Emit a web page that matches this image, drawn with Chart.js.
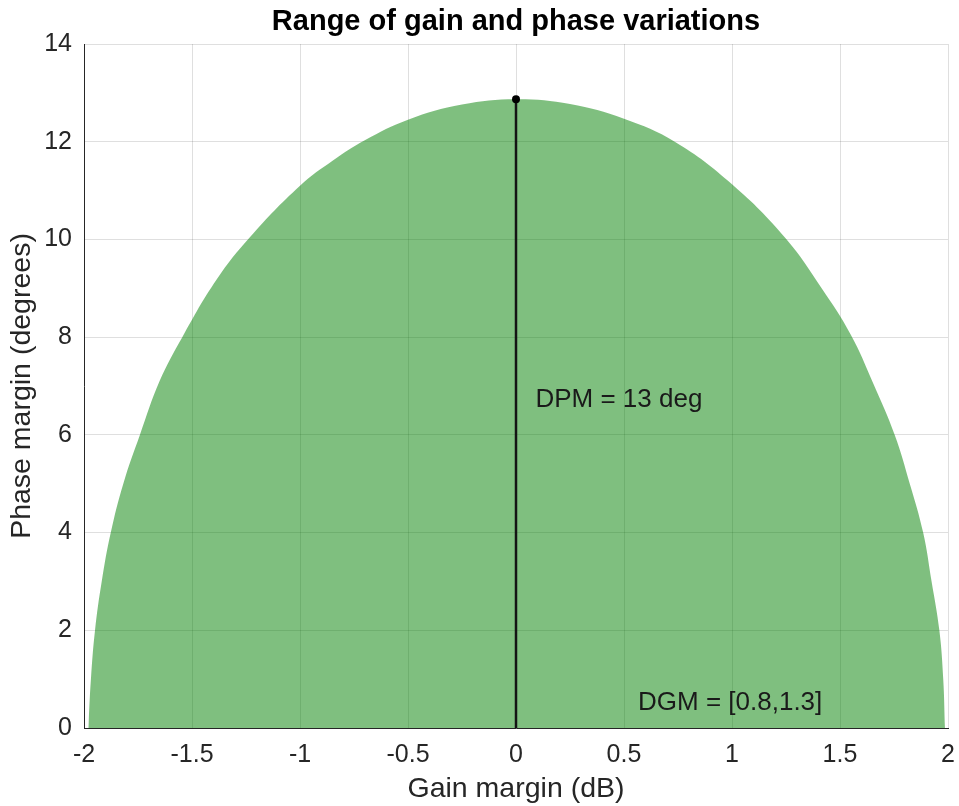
<!DOCTYPE html>
<html>
<head>
<meta charset="utf-8">
<script src="https://cdn.jsdelivr.net/npm/chart.js@4/dist/chart.umd.min.js"></script>
<style>
  html, body { margin: 0; padding: 0; background: #fff; }
</style>
</head>
<body>
<canvas id="chart" width="959" height="806"></canvas>
<script>
(function () {
  'use strict';

  // boundary of the gain/phase variation region
  var gainDb = [-1.980, -1.968, -1.949, -1.918, -1.876, -1.818, -1.741, -1.650, -1.545, -1.386,
    -1.231, -1.000, -0.846, -0.700, -0.500, -0.250, 0, 0.250, 0.500, 0.735,
    1.000, 1.249, 1.415, 1.550, 1.654, 1.753, 1.823, 1.885, 1.924, 1.960,
    1.978, 1.986];
  var phaseDeg = [0, 1, 2, 3, 4, 5, 6, 7.1, 8, 9.18,
    10.05, 11.1, 11.62, 12.03, 12.45, 12.76, 12.87, 12.77, 12.47, 12,
    11.13, 10.02, 9, 8.05, 7.05, 6, 5, 4, 3, 2,
    1, 0];

  // disk phase margin marker
  var dpmGain = [0, 0];
  var dpmPhase = [0, 12.87];

  var xTicks = [-2, -1.5, -1, -0.5, 0, 0.5, 1, 1.5, 2];
  var xTickLabels = ['-2', '-1.5', '-1', '-0.5', '0', '0.5', '1', '1.5', '2'];
  var yTicks = [0, 2, 4, 6, 8, 10, 12, 14];
  var yTickLabels = ['0', '2', '4', '6', '8', '10', '12', '14'];

  var TITLE = 'Range of gain and phase variations';
  var X_TITLE = 'Gain margin (dB)';
  var Y_TITLE = 'Phase margin (degrees)';
  var notes = [
    { text: 'DPM = 13 deg', x: 0.09, y: 6.72 },
    { text: 'DGM = [0.8,1.3]', x: 0.565, y: 0.52 }
  ];

  var FONT = '"Liberation Sans", Arial, Helvetica, sans-serif';
  var AXIS_COLOR = '#262626';
  var GRID_COLOR = 'rgba(38,38,38,0.15)';

  function toPoints(xs, ys) {
    return xs.map(function (x, i) { return { x: x, y: ys[i] }; });
  }

  var textPlugin = {
    id: 'texts',
    afterDatasetsDraw: function (chart) {
      var ctx = chart.ctx;
      var xs = chart.scales.x;
      var ys = chart.scales.y;
      var area = chart.chartArea;
      ctx.save();
      ctx.fillStyle = '#1a1a1a';
      ctx.font = '26px ' + FONT;
      ctx.textAlign = 'left';
      ctx.textBaseline = 'middle';
      notes.forEach(function (n) {
        ctx.fillText(n.text, xs.getPixelForValue(n.x), ys.getPixelForValue(n.y));
      });
      ctx.fillStyle = '#000';
      ctx.font = 'bold 29px ' + FONT;
      ctx.textAlign = 'center';
      ctx.fillText(TITLE, (area.left + area.right) / 2, area.top / 2);
      ctx.restore();
    }
  };

  new Chart(document.getElementById('chart'), {
    type: 'line',
    data: {
      datasets: [{
        // region fill, drawn underneath the marker line
        order: 2,
        data: toPoints(gainDb, phaseDeg),
        fill: 'origin',
        backgroundColor: 'rgba(0,128,0,0.5)',
        borderWidth: 0,
        borderColor: 'rgba(0,0,0,0)',
        pointRadius: 0,
        tension: 0.4,
        cubicInterpolationMode: 'default'
      }, {
        order: 1,
        data: toPoints(dpmGain, dpmPhase),
        fill: false,
        borderColor: '#141414',
        borderWidth: 2.5,
        pointRadius: [0, 4],
        pointBackgroundColor: '#000',
        pointBorderWidth: 0,
        tension: 0
      }]
    },
    options: {
      responsive: false,
      animation: false,
      layout: { autoPadding: false, padding: { top: 44, right: 11, bottom: 0, left: 0 } },
      plugins: {
        legend: { display: false },
        tooltip: { enabled: false },
        title: { display: false }
      },
      scales: {
        x: {
          type: 'linear',
          min: -2,
          max: 2,
          afterBuildTicks: function (scale) {
            scale.ticks = xTicks.map(function (v) { return { value: v }; });
          },
          afterFit: function (scale) {
            scale.height = 78;
            scale.paddingLeft = 0;
            scale.paddingRight = 0;
          },
          ticks: {
            color: AXIS_COLOR,
            font: { family: FONT, size: 25 },
            padding: 12,
            maxRotation: 0,
            callback: function (v, i) { return xTickLabels[i]; }
          },
          grid: { color: GRID_COLOR, lineWidth: 1, drawTicks: false },
          border: { color: AXIS_COLOR, width: 1 },
          title: {
            display: true,
            text: X_TITLE,
            color: AXIS_COLOR,
            font: { family: FONT, size: 28.5 },
            padding: { top: 0, bottom: 0 }
          }
        },
        y: {
          type: 'linear',
          min: 0,
          max: 14,
          afterBuildTicks: function (scale) {
            scale.ticks = yTicks.map(function (v) { return { value: v }; });
          },
          afterFit: function (scale) {
            scale.width = 84;
            scale.paddingTop = 0;
            scale.paddingBottom = 0;
          },
          ticks: {
            color: AXIS_COLOR,
            font: { family: FONT, size: 25 },
            padding: 12,
            callback: function (v, i) { return yTickLabels[i]; }
          },
          grid: { color: GRID_COLOR, lineWidth: 1, drawTicks: false },
          border: { color: AXIS_COLOR, width: 1 },
          title: {
            display: true,
            text: Y_TITLE,
            color: AXIS_COLOR,
            font: { family: FONT, size: 28.5 },
            padding: { top: 5, bottom: 0 }
          }
        }
      }
    },
    plugins: [textPlugin]
  });
})();
</script>
</body>
</html>
